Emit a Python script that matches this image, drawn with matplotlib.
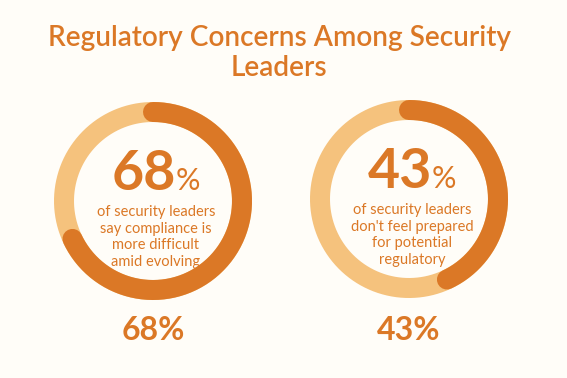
import numpy as np
import matplotlib.pyplot as plt

title = "Regulatory Concerns Among Security\nLeaders"
values = [68, 43]
captions = [
    ["of security leaders", "say compliance is", "more difficult", "amid evolving"],
    ["of security leaders", "don't feel prepared", "for potential", "regulatory"],
]

DARK = "#DB7826"
LIGHT = "#F5C27D"
BG = "#FFFDF8"
W, H = 567, 378

plt.rcParams['font.family'] = ['Lato', 'DejaVu Sans']

fig = plt.figure(figsize=(W / 100, H / 100), dpi=100, facecolor=BG)

fig.text(279 / W, 1 - 53 / H, title, ha='center', va='center', color=DARK,
         fontsize=20.2, fontweight='semibold', linespacing=1.15)

centers = [(153, 201), (409, 199)]
R, RW = 110, 20  # axes half-size in px, ring width in px

for (cx, cy), v, cap in zip(centers, values, captions):
    ax = fig.add_axes([(cx - R) / W, 1 - (cy + R) / H, 2 * R / W, 2 * R / H])
    ax.set_xlim(-R, R)
    ax.set_ylim(-R, R)
    ax.set_aspect('equal')
    ax.axis('off')
    r = 99 - RW / 2
    t = np.linspace(0, 2 * np.pi, 400)
    ax.plot(r * np.cos(t), r * np.sin(t), color=LIGHT, lw=RW * 0.72,
            solid_capstyle='butt')
    th = np.radians(np.linspace(90, 90 - 360 * v / 100, 300))
    ax.plot(r * np.cos(th), r * np.sin(th), color=DARK, lw=RW * 0.72,
            solid_capstyle='round')

    # big number in the middle
    ax.text(23, 11, f"{v}", ha='right', va='baseline', color=DARK,
            fontsize=40, fontweight='bold')
    ax.text(23, 11, "%", ha='left', va='baseline', color=DARK,
            fontsize=22)
    ax.text(3, -36, "\n".join(cap), ha='center', va='center', color=DARK,
            fontsize=10.5, linespacing=1.25)

    fig.text(cx / W, 1 - 331 / H, f"{v}%", ha='center', va='center',
             color=DARK, fontsize=23, fontweight='bold')

fig.savefig("out.png", dpi=100, facecolor=BG)
